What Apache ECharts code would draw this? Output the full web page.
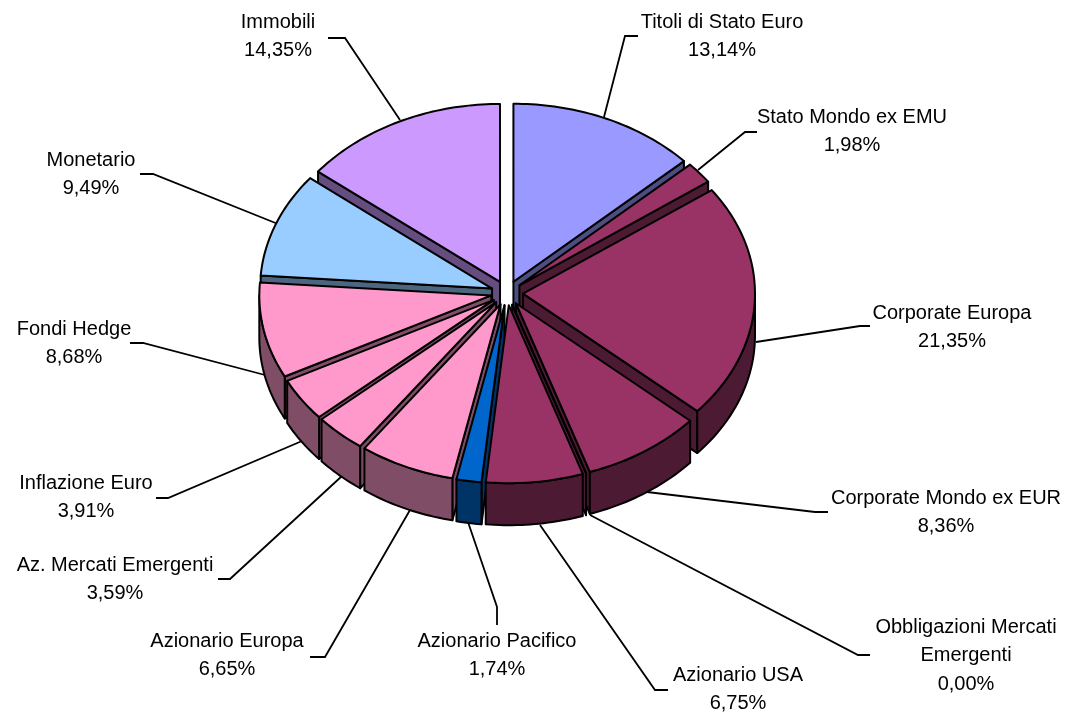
<!DOCTYPE html>
<html>
<head>
<meta charset="utf-8">
<style>html,body{margin:0;padding:0;background:#fff}#c{width:1070px;height:716px}</style>
<script src="https://cdn.jsdelivr.net/npm/echarts@6/dist/echarts.min.js"></script>
</head>
<body>
<div id="c"></div>
<script>
const categories = ['Titoli di Stato Euro','Stato Mondo ex EMU','Corporate Europa','Corporate Mondo ex EUR','Obbligazioni Mercati\nEmergenti','Azionario USA','Azionario Pacifico','Azionario Europa','Az. Mercati Emergenti','Inflazione Euro','Fondi Hedge','Monetario','Immobili'];
const shares = [13.14,1.98,21.35,8.36,0.00,6.75,1.74,6.65,3.59,3.91,8.68,9.49,14.35];
const topColors = ['#9999FF','#993366','#993366','#993366','#993366','#993366','#0066CC','#FF99CC','#FF99CC','#FF99CC','#FF99CC','#99CCFF','#CC99FF'];
const wallColors = ['#4D4D80','#4D1A33','#4D1A33','#4D1A33','#4D1A33','#4D1A33','#003366','#804D66','#804D66','#804D66','#804D66','#4D6680','#664D80'];

// label layout: [text centre x, first line centre y]
const labelAnchors = [[722,22],[852,117],[952,313],[946,498],[966,627],[738,675],[497,641],[227,641],[115,565],[86,483],[74,329],[91,160],[278,22]];
// leader layout, pie end -> elbow -> label end
const leaders = [
 [[604,117],[625,36],[638,36]],
 [[698,170],[745,132],[757,132]],
 [[756,342],[860,326],[870,326]],
 [[647,492],[815,512],[828,512]],
 [[590,515],[858,655],[870,655]],
 [[540,525],[655,690],[668,690]],
 [[468,522],[497,607],[497,625]],
 [[410,510],[325,657],[310,657]],
 [[342,476],[230,579],[218,579]],
 [[302,441],[168,498],[156,498]],
 [[265,375],[143,343],[130,343]],
 [[278,224],[153,174],[140,174]],
 [[400,120],[345,38],[328,38]]
];

const CX = 507, CY = 293, RX = 232, RY = 178, DEPTH = 42, EXPLODE = 16;
const total = shares.reduce((a,b)=>a+b,0);
const slices = [];
let acc = 0;
shares.forEach((s,i)=>{
  const t0 = acc/total*2*Math.PI; acc += s;
  const t1 = acc/total*2*Math.PI; const m = (t0+t1)/2;
  slices.push({i,t0,t1,m});
});
const order = slices.slice().sort((a,b)=>Math.cos(b.m)-Math.cos(a.m)).map(s=>s.i);

function arc(s,a,b,dy){
  const n = Math.max(1,Math.ceil((b-a)/0.02)), ox = CX+EXPLODE*Math.sin(s.m), oy = CY-EXPLODE*RY/RX*Math.cos(s.m), pts=[];
  for(let k=0;k<=n;k++){const t=a+(b-a)*k/n; pts.push([ox+RX*Math.sin(t), oy-RY*Math.cos(t)+dy]);}
  return pts;
}
function apex(s,dy){return [CX+EXPLODE*Math.sin(s.m), CY-EXPLODE*RY/RX*Math.cos(s.m)+dy];}
const line = {stroke:'#000',lineWidth:2,lineJoin:'round'};
function poly(points,fill){return {type:'polygon',shape:{points},style:Object.assign({fill},line)};}

function renderSlice(params,api){
  const s = slices[api.value(0)], c=[], wall=wallColors[s.i];
  if(Math.sin(s.t0)<0){const e=arc(s,s.t0,s.t0,0)[0]; c.push(poly([apex(s,0),e,[e[0],e[1]+DEPTH],apex(s,DEPTH)],wall));}
  if(Math.sin(s.t1)>0){const e=arc(s,s.t1,s.t1,0)[0]; c.push(poly([apex(s,0),e,[e[0],e[1]+DEPTH],apex(s,DEPTH)],wall));}
  const a=Math.max(s.t0,Math.PI/2), b=Math.min(s.t1,Math.PI*1.5);
  if(b>a) c.push(poly(arc(s,a,b,0).concat(arc(s,a,b,DEPTH).reverse()),wall));
  c.push(poly([apex(s,0)].concat(arc(s,s.t0,s.t1,0)),topColors[s.i]));
  return {type:'group',children:c};
}
function renderLabel(params,api){
  const i=api.value(0);
  return {type:'group',children:[
    {type:'polyline',shape:{points:leaders[i]},style:{stroke:'#000',lineWidth:1.8,fill:null}},
    {type:'text',style:{text:categories[i]+'\n'+shares[i].toFixed(2).replace('.',',')+'%',x:labelAnchors[i][0],y:labelAnchors[i][1]-14,
      textAlign:'center',textVerticalAlign:'top',font:'20px "Liberation Sans"',lineHeight:28.5,fill:'#000'}}
  ]};
}
const chart = echarts.init(document.getElementById('c'),null,{renderer:'canvas'});
chart.setOption({
  animation:false,backgroundColor:'#fff',
  series:[
    {type:'custom',coordinateSystem:'none',silent:true,z:1,data:categories.map((_,i)=>[i]),renderItem:renderLabel},
    {type:'custom',coordinateSystem:'none',silent:true,z:2,data:order.map(i=>[i]),renderItem:renderSlice}
  ]
});
</script>
</body>
</html>
